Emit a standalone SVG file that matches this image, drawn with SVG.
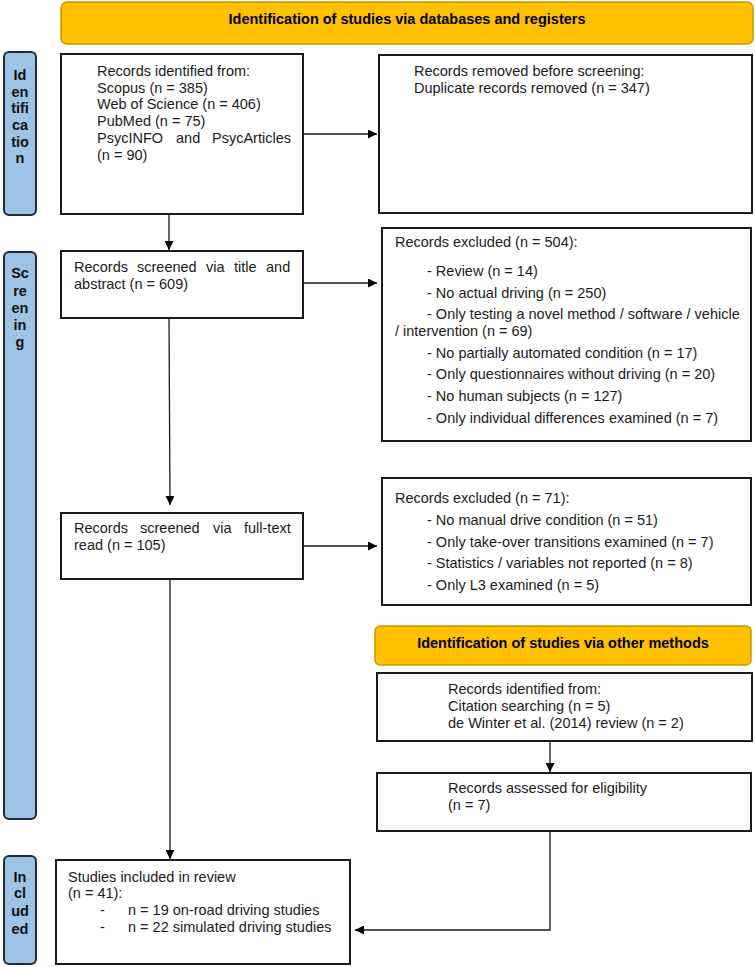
<svg xmlns="http://www.w3.org/2000/svg" width="755" height="967" viewBox="0 0 755 967">
<defs>
<marker id="arr" viewBox="0 0 10 10" refX="10" refY="5" markerWidth="9" markerHeight="9" markerUnits="userSpaceOnUse" orient="auto">
<path d="M0,0 L10,5 L0,10 z" fill="#000"/>
</marker>
</defs>
<style>
text{font-family:"Liberation Sans",Arial,sans-serif;font-size:14.5px;fill:#1a1a1a}
.b{font-weight:bold;fill:#000}
.lab{font-weight:bold;text-anchor:middle;fill:#111}
.box{fill:#fff;stroke:#1a1a1a;stroke-width:2}
.ban{fill:#FFC000;stroke:#C49A00;stroke-width:1.5}
.side{fill:#9DC3E6;stroke:#1f2a36;stroke-width:2}
.con{fill:none;stroke:#1a1a1a;stroke-width:1.3}
</style>
<rect width="755" height="967" fill="#fff"/>

<g id="banner1">
<rect class="ban" x="61" y="2" width="692" height="42" rx="6"/>
<text class="b" x="407" y="24" text-anchor="middle">Identification of studies via databases and registers</text>
</g>

<g id="label-identification">
<rect class="side" x="4" y="52" width="32" height="163" rx="5"/>
<text class="lab" x="20" y="80">Id</text>
<text class="lab" x="20" y="97">en</text>
<text class="lab" x="20" y="113">tifi</text>
<text class="lab" x="20" y="130">ca</text>
<text class="lab" x="20" y="147">tio</text>
<text class="lab" x="20" y="163">n</text>
</g>

<g id="label-screening">
<rect class="side" x="4" y="252" width="32" height="567" rx="5"/>
<text class="lab" x="20" y="278">Sc</text>
<text class="lab" x="20" y="296">re</text>
<text class="lab" x="20" y="313">en</text>
<text class="lab" x="20" y="330">in</text>
<text class="lab" x="20" y="347">g</text>
</g>

<g id="label-included">
<rect class="side" x="4" y="856" width="32" height="108" rx="5"/>
<text class="lab" x="20" y="882">In</text>
<text class="lab" x="20" y="898">cl</text>
<text class="lab" x="20" y="916">ud</text>
<text class="lab" x="20" y="934">ed</text>
</g>

<g id="records-identified">
<rect class="box" x="61" y="54" width="242" height="160"/>
<text x="97" y="76">Records identified from:</text>
<text x="97" y="93">Scopus (n = 385)</text>
<text x="97" y="109">Web of Science (n = 406)</text>
<text x="97" y="126">PubMed (n = 75)</text>
<text y="143"><tspan x="97">PsycINFO</tspan><tspan x="176">and</tspan><tspan x="212">PsycArticles</tspan></text>
<text x="97" y="160">(n = 90)</text>
</g>

<g id="records-removed">
<rect class="box" x="379" y="55" width="373" height="158"/>
<text x="414" y="76">Records removed before screening:</text>
<text x="414" y="93">Duplicate records removed (n = 347)</text>
</g>

<g id="screened-title">
<rect class="box" x="61" y="251" width="242" height="67"/>
<text y="272"><tspan x="74">Records</tspan><tspan x="137">screened</tspan><tspan x="206">via</tspan><tspan x="234">title</tspan><tspan x="266">and</tspan></text>
<text x="74" y="289">abstract (n = 609)</text>
</g>

<g id="excluded-504">
<rect class="box" x="382" y="228" width="369" height="213"/>
<text x="395" y="247">Records excluded (n = 504):</text>
<text x="427" y="276">- Review (n = 14)</text>
<text x="427" y="298">- No actual driving (n = 250)</text>
<text x="427" y="319">- Only testing a novel method / software / vehicle</text>
<text x="395" y="336">/ intervention (n = 69)</text>
<text x="427" y="358">- No partially automated condition (n = 17)</text>
<text x="427" y="379">- Only questionnaires without driving (n = 20)</text>
<text x="427" y="401">- No human subjects (n = 127)</text>
<text x="427" y="423">- Only individual differences examined (n = 7)</text>
</g>

<g id="screened-fulltext">
<rect class="box" x="61" y="513" width="242" height="66"/>
<text y="533"><tspan x="74">Records</tspan><tspan x="140">screened</tspan><tspan x="213">via</tspan><tspan x="244">full-text</tspan></text>
<text x="74" y="550">read (n = 105)</text>
</g>

<g id="excluded-71">
<rect class="box" x="382" y="478" width="369" height="127"/>
<text x="395" y="503">Records excluded (n = 71):</text>
<text x="427" y="525">- No manual drive condition (n = 51)</text>
<text x="427" y="547">- Only take-over transitions examined (n = 7)</text>
<text x="427" y="568">- Statistics / variables not reported (n = 8)</text>
<text x="427" y="590">- Only L3 examined (n = 5)</text>
</g>

<g id="banner2">
<rect class="ban" x="375" y="626" width="376" height="39" rx="5"/>
<text class="b" x="563" y="648" text-anchor="middle">Identification of studies via other methods</text>
</g>

<g id="other-identified">
<rect class="box" x="377" y="673" width="375" height="68"/>
<text x="448" y="694">Records identified from:</text>
<text x="448" y="711">Citation searching (n = 5)</text>
<text x="448" y="728">de Winter et al. (2014) review (n = 2)</text>
</g>

<g id="assessed-eligibility">
<rect class="box" x="377" y="773" width="374" height="58"/>
<text x="448" y="793">Records assessed for eligibility</text>
<text x="448" y="810">(n = 7)</text>
</g>

<g id="included">
<rect class="box" x="56" y="860" width="294" height="104"/>
<text x="68" y="882">Studies included in review</text>
<text x="68" y="898">(n = 41):</text>
<text x="100" y="915">-</text>
<text x="128" y="915">n = 19 on-road driving studies</text>
<text x="100" y="932">-</text>
<text x="128" y="932">n = 22 simulated driving studies</text>
</g>

<g id="connectors">
<line class="con" x1="303" y1="134" x2="377" y2="134" marker-end="url(#arr)"/>
<line class="con" x1="169" y1="214" x2="169" y2="250" marker-end="url(#arr)"/>
<line class="con" x1="303" y1="283" x2="377" y2="283" marker-end="url(#arr)"/>
<line class="con" x1="169" y1="318" x2="170" y2="505" marker-end="url(#arr)"/>
<line class="con" x1="303" y1="546" x2="377" y2="546" marker-end="url(#arr)"/>
<line class="con" x1="170" y1="579" x2="170" y2="859" marker-end="url(#arr)"/>
<line class="con" x1="550" y1="741" x2="550" y2="772" marker-end="url(#arr)"/>
<polyline class="con" points="550,831 550,930 355,930" marker-end="url(#arr)"/>
</g>
</svg>
